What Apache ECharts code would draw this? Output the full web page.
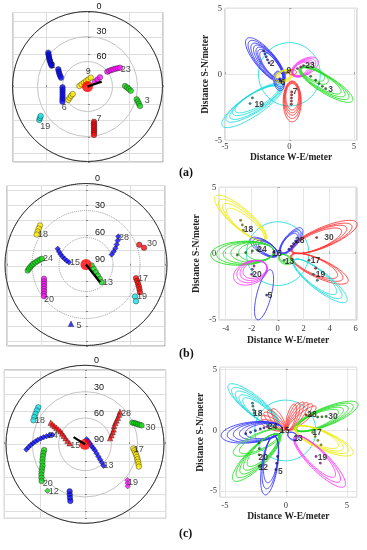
<!DOCTYPE html>
<html><head><meta charset="utf-8">
<script src="https://cdn.jsdelivr.net/npm/echarts@6.0.0/dist/echarts.min.js"></script>
<style>html,body{margin:0;padding:0;background:#fff}#c{width:367px;height:550px}</style>
</head><body><div id="c"></div>
<script>
// ================= DATA =================
// Sky plots: points are [elevation deg, azimuth deg]
const skyTracksA = [
  ['2',  [[27.8,310.8],[29.4,309.5],[30.9,308.2],[32.5,306.8],[34.0,305.5],[35.6,304.2],[37.2,302.8],[38.7,301.5],[40.3,300.2]]],
  ['2b', [[49.3,300.5],[51.1,297.5],[52.9,294.5],[54.7,291.4],[56.5,288.4]]],
  ['6',  [[60.0,268.2],[59.8,262.7],[59.3,257.4],[58.6,252.3],[57.5,247.4],[56.3,242.9],[54.8,238.7]]],
  ['6y', [[61.8,234.9],[64.6,237.6],[67.3,240.4],[70.1,243.1]]],
  ['9',  [[80.2,273.5],[82.4,290.4],[83.7,316.5],[83.2,345.7],[81.4,7.2],[78.7,20.0]]],
  ['26', [[79.3,57.4],[75.4,55.0],[71.4,53.6]]],
  ['23', [[60.4,53.2],[57.8,54.3],[55.3,55.4],[52.7,56.5],[50.1,57.7],[47.6,58.8],[45.0,59.9]]],
  ['3b', [[45.0,89.2],[42.6,91.3],[40.3,93.5],[37.9,95.6]]],
  ['3',  [[29.0,104.6],[26.9,106.5],[24.9,108.5],[22.8,110.4]]],
  ['7',  [[47.0,169.5],[44.8,170.1],[42.6,170.5],[40.3,171.0],[38.0,171.4],[35.8,171.7],[33.6,172.1],[31.3,172.4]]],
  ['19', [[19.6,235.2],[21.6,236.5],[23.6,237.8]]]
];
const skyLabelsA = [['2',41.5,300.5],['6',52.3,227.6],['9',72.2,3.1],['23',39.6,65.4],['3',16.2,103.6],['7',49.4,160.1],['19',20.6,226.9]];
const sunA = [[90,0],[72,71]];

const skyTracksB = [
  ['18', [[23.0,310.3],[24.0,307.3],[25.0,304.3],[25.9,301.3]]],
  ['24', [[24.9,264.1],[26.5,265.8],[28.1,267.5],[29.8,269.1],[31.4,270.8],[33.7,272.4],[35.9,274.0],[38.2,275.7],[40.4,277.3]]],
  ['15', [[54.0,299.0],[56.8,295.5],[59.6,291.9],[62.5,288.4],[65.3,284.8],[68.1,281.3],[70.9,277.7]]],
  ['20', [[40.7,251.2],[39.8,248.2],[38.7,245.3],[37.4,242.6],[36.1,240.0],[34.7,237.6],[33.1,235.2],[31.6,233.0]]],
  ['5',  [[22.0,194.2]]],
  ['28', [[42.5,49.1],[45.9,53.0],[49.3,56.9],[52.6,60.9],[56.0,64.8],[59.4,68.7]]],
  ['30', [[26.9,69.7],[22.9,73.9]]],
  ['17', [[32.4,105.3],[30.4,107.7],[28.5,110.1],[26.5,112.4],[24.6,114.8],[22.6,117.2]]],
  ['19', [[25.0,123.1],[21.1,126.3]]],
  ['13', [[83.6,99.9],[80.2,119.2],[76.1,128.4],[72.1,133.2],[68.0,136.2],[63.7,138.4]]]
];
const skyLabelsB = [['18',31.8,304.9],['24',47.2,279],['15',77.6,280.3],['20',33.4,226.6],['5',21.8,186.5],['28',38.2,54.6],['30',13,72.4],['17',24.8,103.8],['19',18.3,119.7],['13',58.4,129.3]];
const sunB = [[90,0],[64.9,141.6]];

const skyTracksC = [
  ['18', [[22.1,308.4],[22.9,305.1],[23.7,301.7],[24.4,298.4],[25.2,295.0]]],
  ['15', [[43.8,302.3],[46.7,301.6],[49.6,300.8],[52.5,300.0],[55.4,299.1],[58.4,297.9],[61.2,295.5],[64.0,292.0],[66.8,287.5],[69.6,281.5],[72.4,273.8]]],
  ['24', [[22.9,265.0],[25.5,267.1],[28.1,269.2],[30.7,271.2],[33.4,273.3],[36.0,275.3],[39.1,277.5],[42.1,279.7],[45.2,281.9],[48.2,284.1],[51.3,286.3]]],
  ['28', [[35.6,47.0],[38.7,49.0],[41.8,51.0],[44.9,52.9],[47.9,54.9],[50.8,57.8],[53.2,62.5],[55.6,66.5],[58.1,71.2],[60.5,76.2]]],
  ['30', [[30.7,65.4],[29.0,66.6],[27.3,67.8],[25.6,69.1],[23.9,70.3],[22.1,71.5]]],
  ['17', [[34.8,94.9],[33.4,97.1],[32.0,99.3],[30.6,101.5],[29.2,103.7],[27.8,105.9],[26.4,108.1],[25.0,110.3],[23.6,112.5]]],
  ['19', [[26.6,130.3],[24.2,132.4],[21.8,134.5]]],
  ['13', [[83.9,18],[85.0,48],[84.3,81.7],[82.3,103.5],[79.8,114.5],[77.0,120.8],[73.4,127.7],[69.5,132.2],[65.6,135.2],[61.7,137.3],[57.8,139.0]]],
  ['20', [[43.0,261.9],[41.6,258.2],[40.2,254.5],[38.8,250.7],[37.3,247.0],[35.9,243.3],[33.8,240.6],[31.7,237.9],[29.5,235.2],[27.4,232.4],[25.2,229.7]]],
  ['12', [[22.0,219.0]]],
  ['5',  [[33.6,198.1],[30.2,196.9],[26.7,195.7],[23.3,194.5]]]
];
const skyLabelsC = [['18',31.9,298.1],['15',78.8,265.8],['24',51.9,284.8],['28',31.2,52.8],['30',12.9,75.6],['17',28.4,95.1],['19',20.4,128.2],['13',53.9,132.3],['20',28.7,223.7],['12',25.6,213.7]];
const sunC = [[90,0],[74.6,302.1]];

// Error ellipses (meters): [prn, centreX, centreY, semiMajor, semiMinor, angleDeg]
const ellA = [
  ['c0',0,0,2.4,2.4,0],
  ['19',-2.85,-2.35,2.82,0.8,33.4],['19',-2.75,-2.2,2.51,0.7,31.2],['19',-2.65,-2.1,2.29,0.65,31.6],['19',-2.6,-2.0,2.06,0.6,29],['19',-2.55,-1.9,1.88,0.55,28.6],
  ['2',-1.85,1.05,2.2,0.75,131.3],['2',-1.78,0.98,2.02,0.7,131],['2',-1.7,0.9,1.84,0.65,130.6],['2',-1.6,0.85,1.7,0.6,130],['2',-1.53,0.8,1.55,0.55,129],['2',-1.48,0.73,1.43,0.5,129],['2',-1.42,0.68,1.3,0.47,128],
  ['6',-0.8,-0.5,0.75,0.42,100],['6',-0.78,-0.45,0.65,0.38,98],['6',-0.75,-0.4,0.55,0.34,96],
  ['9',-0.45,-0.15,0.8,0.45,20],['9',-0.42,-0.12,0.7,0.4,22],['9',-0.4,-0.1,0.6,0.36,25],['9',-0.35,-0.05,0.5,0.32,28],
  ['23',1.2,0.55,1.15,0.6,28],['23',1.12,0.5,1.02,0.55,30],['23',1.05,0.47,0.9,0.5,30],['23',0.98,0.43,0.8,0.45,32],['23',0.9,0.4,0.7,0.4,33],
  ['3',2.83,-0.78,2.41,0.65,-30.6],['3',2.7,-0.68,2.21,0.6,-30.6],['3',2.58,-0.6,2.0,0.55,-30],['3',2.45,-0.5,1.79,0.5,-30],['3',1.95,-0.05,1.18,0.5,-27.6],['3',1.83,0.05,0.98,0.45,-25],
  ['7',0.22,-2.05,1.55,0.7,90],['7',0.22,-1.95,1.4,0.65,90],['7',0.22,-1.85,1.25,0.6,90],['7',0.22,-1.78,1.13,0.55,90],['7',0.22,-1.7,1.0,0.5,90],
  ['r0',0.25,0.15,0.3,0.2,0]
];
const ellB = [
  ['c0',0,0,2.4,2.4,0],
  ['18',-2.85,2.68,2.54,0.75,140.2],['18',-2.73,2.53,2.31,0.7,140.3],['18',-2.6,2.38,2.08,0.62,140.4],['18',-2.48,2.2,1.83,0.55,141],
  ['30',3.55,1.25,2.76,0.75,22.4],['30',3.38,1.15,2.51,0.7,22.2],['30',3.2,1.08,2.28,0.65,22.6],['30',3.03,0.98,2.03,0.6,22.5],
  ['17',3.2,-1.13,2.41,0.7,-23.9],['17',3.03,-1.03,2.16,0.65,-23.9],['17',2.85,-0.93,1.91,0.6,-23.9],
  ['19',3.25,-2.05,2.57,0.7,-37.1],['19',3.08,-1.9,2.3,0.65,-37.5],['19',2.9,-1.75,2.03,0.6,-38],
  ['28',1.03,0.95,1.26,0.5,49],['28',0.98,0.9,1.12,0.45,49],['28',0.92,0.85,1.0,0.42,50],['28',0.87,0.8,0.9,0.38,50],
  ['15',-1.05,0.48,1.22,0.5,149],['15',-0.95,0.45,1.08,0.45,148],['15',-0.85,0.4,0.95,0.42,148],['15',-0.75,0.35,0.82,0.38,147],
  ['24',-2.72,0.03,2.43,0.9,3],['24',-2.5,0.05,2.2,0.85,3],['24',-2.25,0.07,1.95,0.8,3],['24',-1.95,0.1,1.65,0.75,2],['24',-1.65,0.12,1.35,0.7,2],['24',-1.35,0.12,1.05,0.6,2],
  ['20',-2.1,-1.45,1.35,0.85,20],['20',-1.98,-1.35,1.2,0.78,20],['20',-1.86,-1.27,1.07,0.7,20],['20',-1.75,-1.2,0.95,0.62,20],
  ['5',-1.05,-3.1,1.95,0.55,75],
  ['13',0.6,-0.45,0.55,0.35,-20],['13',0.55,-0.4,0.47,0.3,-25],['13',0.5,-0.35,0.4,0.26,-30]
];
const ellC = [
  ['c0',-0.05,0,2.5,2.5,0],
  ['18',-2.65,2.1,2.63,0.75,141.2],['18',-2.53,1.95,2.4,0.7,141.3],['18',-2.4,1.8,2.17,0.65,141.5],['18',-2.28,1.65,1.94,0.6,141.8],['18',-2.15,1.53,1.73,0.55,141.5],
  ['28',1.30,1.01,1.5,0.38,40],['28',1.14,1.11,1.45,0.38,47],['28',0.96,1.17,1.38,0.37,54],['28',0.78,1.19,1.3,0.36,61],['28',0.60,1.16,1.2,0.35,68],['28',0.43,1.11,1.1,0.34,75],
  ['15',-0.6,0.92,1.0,0.34,120],['15',-0.78,0.85,1.05,0.35,130],['15',-0.94,0.76,1.1,0.35,140],['15',-1.05,0.6,1.1,0.35,150],['15',-1.09,0.41,1.05,0.34,160],
  ['30',3.3,1.15,2.8,0.75,22],['30',3.13,1.08,2.57,0.7,22.3],['30',2.95,1.0,2.33,0.65,22.7],['30',2.78,0.93,2.09,0.6,23],['30',2.6,0.85,1.86,0.55,23.5],
  ['17',3.1,-0.85,2.62,0.75,-23.6],['17',2.93,-0.75,2.37,0.7,-23.6],['17',2.75,-0.65,2.13,0.65,-23.6],['17',2.58,-0.55,1.88,0.6,-23.5],
  ['19',2.75,-2.55,2.9,0.8,-45],['19',2.58,-2.35,2.6,0.72,-45.4],['19',2.4,-2.15,2.3,0.65,-45.9],
  ['24',-2.8,-0.15,2.52,0.85,6.8],['24',-2.55,-0.13,2.27,0.8,7],['24',-2.3,-0.1,2.02,0.75,7],['24',-2.05,-0.08,1.77,0.68,7],['24',-1.8,-0.05,1.53,0.6,7],
  ['20',-2.4,-2.23,2.67,0.8,44.6],['20',-2.28,-2.08,2.44,0.75,45],['20',-2.15,-1.93,2.21,0.7,45.5],['20',-2.03,-1.78,1.98,0.65,46],['20',-1.9,-1.63,1.75,0.6,46.7],
  ['12',-2.3,-1.0,2.2,0.7,25],['12',-2.1,-0.9,1.9,0.6,27],
  ['5',-1.33,-2.88,2.45,0.65,81.2],['5',-1.28,-2.63,2.2,0.6,81.5],['5',-1.23,-2.38,1.94,0.55,82],
  ['13',0.6,-0.5,0.5,0.3,-30],['13',0.55,-0.45,0.42,0.26,-30]
];

// Position solutions (meters): [prn, [[x,y],...]]
const dotsA = [
  ['2',[[-2.0,1.77],[-1.9,1.55],[-1.8,1.33],[-1.7,1.1],[-1.58,0.86]]],
  ['19',[[-2.87,-1.79],[-3.05,-2.22]]],
  ['3',[[1.65,-0.15],[2.04,-0.45],[2.3,-0.7],[2.56,-0.91],[2.82,-1.09]]],
  ['23',[[0.62,0.43],[0.88,0.56],[1.09,0.66]]],
  ['7',[[0.18,-1.34],[0.17,-1.57],[0.16,-1.8],[0.16,-2.03],[0.15,-2.27]]],
  ['6',[[-0.75,-0.35],[-0.7,-0.5]]],
  ['9',[[-0.3,0.1],[-0.15,0.15]]]
];
const dotLabelsA = [['2',-1.35,0.82],['19',-2.35,-2.27],['3',3.2,-1.2],['23',1.6,0.68],['7',0.45,-1.34],['9',-0.05,0.28],['6',-0.5,-0.6]];
const dotsB = [
  ['18',[[-2.85,2.51],[-2.72,2.16],[-2.64,1.78]]],
  ['30',[[3.0,1.21]]],
  ['17',[[2.41,-0.5],[2.92,-1.1]]],
  ['19',[[2.74,-1.56],[3.05,-2.01]]],
  ['28',[[0.87,0.33],[1.05,0.55],[1.22,0.75],[1.38,0.95]]],
  ['24',[[-3.1,-0.1],[-2.46,0.08],[-1.95,0.2],[-1.56,0.28]]],
  ['20',[[-1.82,-0.93],[-1.95,-1.18],[-2.0,-1.56]]],
  ['5',[[-0.85,-3.12]]],
  ['13',[[0.49,-0.5]]],
  ['15',[[-0.3,0.1]]]
];
const dotLabelsB = [['18',-2.25,1.78],['30',3.95,1.21],['17',2.9,-0.55],['19',3.3,-1.6],['28',1.7,0.95],['24',-1.2,0.28],['20',-1.6,-1.6],['5',-0.6,-3.15],['13',0.9,-0.58],['15',-0.05,0.0]];
const dotsC = [
  ['18',[[-2.74,2.25],[-2.7,2.0],[-2.65,1.7],[-2.6,1.42]]],
  ['28',[[1.64,1.29],[2.05,1.22]]],
  ['30',[[2.6,1.1],[2.95,1.12],[3.3,1.15]]],
  ['17',[[2.19,-0.16],[2.4,-0.5],[2.62,-0.82],[2.88,-1.18]]],
  ['19',[[2.47,-2.14],[2.82,-2.68]]],
  ['24',[[-3.29,-0.27],[-2.9,-0.15],[-2.5,-0.02],[-2.1,0.12],[-1.8,0.22],[-1.5,0.33]]],
  ['20',[[-2.19,-1.04],[-2.19,-1.5],[-2.19,-2.0]]],
  ['12',[[-2.19,-2.96]]],
  ['5',[[-0.68,-2.14],[-0.75,-2.7],[-0.82,-3.23]]]
];
const dotLabelsC = [['18',-2.3,1.35],['28',2.14,1.29],['30',3.85,1.15],['17',2.55,-0.2],['19',3.0,-2.2],['24',-1.1,0.35],['15',-0.1,-0.05],['13',1.0,-0.65],['20',-1.85,-2.2],['12',-1.85,-3.05],['5',-0.45,-3.35]];

const elevTicks = [0, 30, 60, 90];
const panelTags = ['(a)', '(b)', '(c)'];

// ================= STYLE / LAYOUT =================
const COL  = {blue:'#0808ff', red:'#ff0808', green:'#14d814', yellow:'#ffee00', magenta:'#ff10ff', cyan:'#10e4e4'};
const ELC  = {blue:'#3535ff', red:'#ff3535', green:'#26de26', yellow:'#ecec10', magenta:'#ff35ff', cyan:'#22dede'};
const DARK = {blue:'#14147a', red:'#7a1414', green:'#0e5a0e', yellow:'#6a6a00', magenta:'#701070', cyan:'#0e6060'};

const skyCol = [
  {'2':'blue','2b':'blue','6':'blue','6y':'yellow','9':'yellow','26':'magenta','23':'magenta','3b':'green','3':'green','7':'red','19':'cyan'},
  {'18':'yellow','24':'green','15':'blue','20':'magenta','5':'blue','28':'blue','30':'red','17':'red','19':'cyan','13':'green'},
  {'18':'cyan','15':'red','24':'blue','28':'red','30':'green','17':'yellow','19':'magenta','13':'blue','20':'green','12':'green','5':'blue'}
];
const skySym = [{}, {'15':'diamond','28':'diamond','5':'triangle'}, {'15':'triangle','28':'triangle','24':'diamond','13':'diamond','12':'diamond','19':'diamond'}];
const ellCol = [
  {'c0':'cyan','19':'cyan','2':'blue','6':'blue','9':'yellow','23':'magenta','3':'green','7':'red','r0':'red'},
  {'c0':'cyan','18':'yellow','30':'red','17':'red','19':'cyan','28':'blue','15':'blue','24':'green','20':'magenta','5':'blue','13':'green'},
  {'c0':'cyan','18':'cyan','28':'red','15':'red','30':'green','17':'yellow','19':'magenta','24':'blue','20':'green','12':'green','5':'blue','13':'blue'}
];

const polars = [
  {center:[87.5,86.5], radius:75},
  {center:[86,264.5], radius:81},
  {center:[85,444.3], radius:79}
];
const boxRects = [
  {left:13, top:12.5, width:150, height:149.5, x:1.8, y:4.5, ys:9},
  {left:7, top:185.5, width:158, height:160.5, x:1.78, y:5.3, ys:10},
  {left:4.3, top:370, width:161.4, height:148.3, x:1.82, y:4.45, ys:9}
];
const errRects = [
  {left:225, top:8.3, width:132, height:132, xmin:-5, xmax:5.25, ymin:-5, ymax:5, xi:5, yi:5, lm:2, nx:12, ny:14},
  {left:219.2, top:187.3, width:137.8, height:132.7, xmin:-4.5, xmax:6.1, ymin:-5, ymax:5, xs:5, yi:5, lm:4, nx:16, ny:18},
  {left:220, top:367.3, width:136.7, height:130, xmin:-5.4, xmax:5.8, ymin:-5.5, ymax:5.2, xs:2, ys:2, lm:4, nx:12, ny:12}
];
const skyData = [[skyTracksA, skyLabelsA, sunA],[skyTracksB, skyLabelsB, sunB],[skyTracksC, skyLabelsC, sunC]];
const errData = [[ellA, dotsA, dotLabelsA],[ellB, dotsB, dotLabelsB],[ellC, dotsC, dotLabelsC]];

const grids = [], xAxes = [], yAxes = [], series = [], polarOpt = [], angleAxes = [], radiusAxes = [], titles = [];
const SERIF = 'Liberation Serif', SANS = 'Liberation Sans';

function ellipseItem(params, api) {
  const cx = api.value(0), cy = api.value(1), a = api.value(2), b = api.value(3);
  const t = api.value(4) * Math.PI / 180;
  const pts = [];
  for (let k = 0; k < 90; k++) {
    const s = k / 90 * 2 * Math.PI;
    const ex = a * Math.cos(s), ey = b * Math.sin(s);
    pts.push(api.coord([cx + ex * Math.cos(t) - ey * Math.sin(t), cy + ex * Math.sin(t) + ey * Math.cos(t)]));
  }
  return {type:'polygon', shape:{points:pts}, style:{fill:'none', stroke:api.visual('color'), lineWidth:0.9}};
}

// ---- sky plot background boxes: grid / axis indices 0..2 ----
for (let k = 0; k < 3; k++) {
  const br = boxRects[k];
  grids.push({left:br.left, top:br.top, width:br.width, height:br.height, show:true, borderColor:'#9a9a9a', borderWidth:1});
  xAxes.push({gridIndex:k, type:'value', min:-br.x, max:br.x, splitNumber:4, z:0,
    axisLine:{show:false}, axisLabel:{show:false}, axisTick:{show:true, inside:true, length:2, lineStyle:{color:'#888'}},
    splitLine:{show:true, lineStyle:{color:'#dedede', width:1}}});
  yAxes.push({gridIndex:k, type:'value', min:-br.y, max:br.y, splitNumber:br.ys, z:0,
    axisLine:{show:false}, axisLabel:{show:false}, axisTick:{show:true, inside:true, length:2, lineStyle:{color:'#888'}},
    splitLine:{show:true, lineStyle:{color:'#dedede', width:1}}});
}
// ---- error-ellipse panels: grid / axis indices 3..5 ----
for (let k = 0; k < 3; k++) {
  const er = errRects[k];
  const gi = 3 + k;
  grids.push({left:er.left, top:er.top, width:er.width, height:er.height, show:true, borderColor:'#b4b4b4', borderWidth:1});
  const xa = {gridIndex:gi, type:'value', min:er.xmin, max:er.xmax, z:1,
    name:'Distance W-E/meter', nameLocation:'middle', nameGap:er.nx,
    nameTextStyle:{fontFamily:SERIF, fontWeight:'bold', fontSize:9.5, color:'#222'},
    axisLine:{show:false}, axisTick:{show:true, inside:true, length:2, lineStyle:{color:'#999'}},
    axisLabel:{color:'#333', fontSize:8.5, fontFamily:SERIF, margin:er.lm, showMinLabel: er.xi ? true : false, showMaxLabel:false},
    splitLine:{show:true, lineStyle:{color:'#e6e6e6'}}};
  if (er.xi) xa.interval = er.xi; else xa.splitNumber = er.xs;
  const ya = {gridIndex:gi, type:'value', min:er.ymin, max:er.ymax, z:1,
    name:'Distance S-N/meter', nameLocation:'middle', nameGap:er.ny,
    nameTextStyle:{fontFamily:SERIF, fontWeight:'bold', fontSize:9.5, color:'#222'},
    axisLine:{show:false}, axisTick:{show:true, inside:true, length:2, lineStyle:{color:'#999'}},
    axisLabel:{color:'#333', fontSize:8.5, fontFamily:SERIF, margin:3, showMinLabel: er.yi ? true : false, showMaxLabel: er.yi ? true : false},
    splitLine:{show:true, lineStyle:{color:'#e6e6e6'}}};
  if (er.yi) ya.interval = er.yi; else ya.splitNumber = er.ys;
  xAxes.push(xa); yAxes.push(ya);
}

for (let k = 0; k < 3; k++) {
  // ---- polar sky plot ----
  polarOpt.push({center:polars[k].center, radius:polars[k].radius});
  angleAxes.push({polarIndex:k, type:'value', min:0, max:360, startAngle:90, clockwise:true, z:2,
    axisLine:{show:true, lineStyle:{color:'#333', width:1}}, axisTick:{show:false}, axisLabel:{show:false}, splitLine:{show:false}});
  radiusAxes.push({polarIndex:k, type:'value', min:0, max:90, interval:30, inverse:true, z:2,
    axisLine:{show:false}, axisTick:{show:false},
    splitLine:{show:true, lineStyle:{color: k === 1 ? '#999' : '#c4c4c4', type: k === 1 ? 'dotted' : 'solid', width:1}},
    axisLabel:{show:true, margin:-9, align:'left', verticalAlign:'bottom', color:'#111', fontSize:9, fontFamily:SANS,
      formatter: v => (k === 0 && v === 90) ? '' : String(v)}});

  const [tracks, labels, sun] = skyData[k];
  tracks.forEach(([id, pts]) => {
    const c = skyCol[k][id];
    series.push({type:'scatter', coordinateSystem:'polar', polarIndex:k, symbol:skySym[k][id] || 'circle', symbolSize:5.5,
      itemStyle:{color:COL[c], borderColor:'#1a1a1a', borderWidth:0.5}, data:pts, z:3, silent:true});
  });
  series.push({type:'scatter', coordinateSystem:'polar', polarIndex:k, data:[[elevTicks[3],0]], symbolSize:11,
    itemStyle:{color:'#ff0000'}, z:4, silent:true});
  series.push({type:'line', coordinateSystem:'polar', polarIndex:k, data:sun, symbol:'none',
    lineStyle:{color:'#000', width:2.2}, z:5, silent:true});
  series.push({type:'scatter', coordinateSystem:'polar', polarIndex:k, symbolSize:1, itemStyle:{color:'rgba(0,0,0,0)'},
    data:labels.map(([t, el, az]) => ({name:t, value:[el, az]})),
    label:{show:true, position:'inside', formatter:'{b}', color:'#111', fontSize:9, fontFamily:SANS}, z:6, silent:true});

  // ---- error-ellipse panel series ----
  const gi = 3 + k;
  const [ells, dots, dlabels] = errData[k];
  const groups = [...new Set(ells.map(e => e[0]))];
  groups.forEach(g => {
    series.push({type:'custom', xAxisIndex:gi, yAxisIndex:gi, renderItem:ellipseItem, clip:false, silent:true,
      itemStyle:{color:ELC[ellCol[k][g]]}, encode:{x:0, y:1},
      data: ells.filter(e => e[0] === g).map(e => e.slice(1)), z:2});
  });
  dots.forEach(([id, pts]) => {
    series.push({type:'scatter', xAxisIndex:gi, yAxisIndex:gi, symbolSize:2.8, silent:true,
      itemStyle:{color:DARK[ellCol[k][id]]}, data:pts, z:3});
  });
  series.push({type:'scatter', xAxisIndex:gi, yAxisIndex:gi, symbolSize:1, silent:true, itemStyle:{color:'rgba(0,0,0,0)'},
    data:dlabels.map(([t, x, y]) => ({name:t, value:[x, y]})),
    label:{show:true, position:'inside', formatter:'{b}', color:'#111', fontSize:8.5, fontWeight:'bold', fontFamily:SANS}, z:4});
}

const tagTops = [162, 343, 523];
panelTags.forEach((t, i) => titles.push({text:t, left:174, top:tagTops[i],
  textStyle:{fontFamily:SERIF, fontWeight:'bold', fontSize:12, color:'#111'}}));

const chart = echarts.init(document.getElementById('c'));
chart.setOption({
  animation:false,
  backgroundColor:'#fff',
  title:titles,
  grid:grids, xAxis:xAxes, yAxis:yAxes,
  polar:polarOpt, angleAxis:angleAxes, radiusAxis:radiusAxes,
  series:series
});
</script></body></html>
